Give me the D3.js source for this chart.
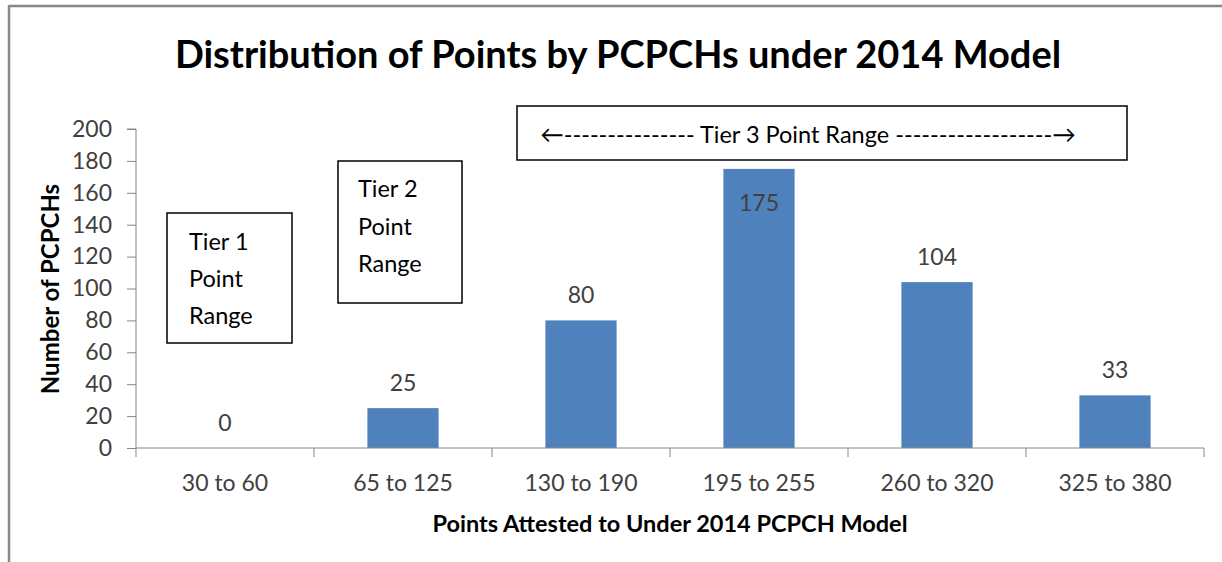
<!DOCTYPE html>
<html><head><meta charset="utf-8">
<script src="https://cdn.jsdelivr.net/npm/d3@7"></script>
<style>
html,body{margin:0;padding:0;background:#fff;}
svg{display:block;font-family:Lato, "Open Sans", sans-serif;}
</style></head>
<body>
<svg id="c" width="1222" height="562"></svg>
<script>
const categories = ["30 to 60","65 to 125","130 to 190","195 to 255","260 to 320","325 to 380"];
const values = [0,25,80,175,104,33];
const yTicks = [0,20,40,60,80,100,120,140,160,180,200];
const titleText = "Distribution of Points by PCPCHs under 2014 Model";
const xTitle = "Points Attested to Under 2014 PCPCH Model";
const yTitle = "Number of PCPCHs";
const tier1Lines = ["Tier 1","Point","Range"];
const tier2Lines = ["Tier 2","Point","Range"];
const tier3Text = "\u2190--------------- Tier 3 Point Range ------------------\u2192";

const svg = d3.select("#c");
const W = 1222, H = 562;
const m = {left:136, right:1204, top:129, bottom:448};

// outer frame (top + left edges visible)
svg.append("line").attr("x1",9).attr("x2",W).attr("y1",6).attr("y2",6).attr("stroke","#888").attr("stroke-width",2.5);
svg.append("line").attr("x1",9).attr("x2",9).attr("y1",5).attr("y2",H).attr("stroke","#888").attr("stroke-width",2.5);

const x = d3.scaleBand().domain(categories).range([m.left,m.right]).paddingInner(0.6).paddingOuter(0.3);
const y = d3.scaleLinear().domain([0,200]).range([m.bottom,m.top]);

// bars
svg.append("g").selectAll("rect").data(values).join("rect")
  .attr("x",(d,i)=>x(categories[i]))
  .attr("width",x.bandwidth())
  .attr("y",d=>y(d))
  .attr("height",d=>y(0)-y(d))
  .attr("fill","#4F81BD");

// y axis
const yAxis = svg.append("g").attr("transform",`translate(${m.left},0)`)
  .call(d3.axisLeft(y).tickValues(yTicks).tickSize(9).tickPadding(15).tickFormat(d3.format("d")));
yAxis.select(".domain").attr("stroke","#868686").attr("d",`M-9,${y(200)}H0V${y(0)}`);
yAxis.selectAll(".tick line").attr("stroke","#868686");
yAxis.selectAll(".tick text").attr("fill","#404040").style("font-size","23px").style("font-family","Lato");

// x axis
const xAxis = svg.append("g").attr("transform",`translate(0,${m.bottom})`)
  .call(d3.axisBottom(x).tickSize(0).tickPadding(27));
xAxis.select(".domain").attr("stroke","#868686").attr("d",`M${m.left},0H${m.right}`);
xAxis.selectAll(".tick text").attr("fill","#404040").style("font-size","23px").style("font-family","Lato");
// boundary ticks between categories
const bounds = d3.range(categories.length+1).map(i=>m.left + i*(m.right-m.left)/categories.length);
svg.append("g").selectAll("line").data(bounds).join("line")
  .attr("x1",d=>d).attr("x2",d=>d).attr("y1",m.bottom).attr("y2",m.bottom+9)
  .attr("stroke","#868686");

// data labels
svg.append("g").selectAll("text").data(values).join("text")
  .attr("x",(d,i)=>x(categories[i])+x.bandwidth()/2)
  .attr("y",(d,i)=> d===175 ? y(d)+42 : y(d)-17)
  .attr("text-anchor","middle")
  .attr("fill","#404040").style("font-size","23px")
  .text(d=>d);

// title
svg.append("text").attr("x",618).attr("y",68).attr("text-anchor","middle")
  .style("font-size","38px").style("font-weight","bold").attr("fill","#000").text(titleText);

// axis titles
svg.append("text").attr("x",670).attr("y",532).attr("text-anchor","middle")
  .style("font-size","23.5px").style("font-weight","bold").attr("fill","#000").text(xTitle);
svg.append("text").attr("transform","translate(59,289) rotate(-90)").attr("text-anchor","middle")
  .style("font-size","24px").style("font-weight","bold").attr("fill","#000").text(yTitle);

// annotation boxes
function box(x0,y0,w,h){
  svg.append("rect").attr("x",x0).attr("y",y0).attr("width",w).attr("height",h)
    .attr("fill","#fff").attr("stroke","#000").attr("stroke-width",1.5);
}
box(167,213,125,130);
svg.append("g").selectAll("text").data(tier1Lines).join("text")
  .attr("x",189).attr("y",(d,i)=>250+i*37).style("font-size","23.5px").attr("fill","#000").text(d=>d);
box(338,161,124,142);
svg.append("g").selectAll("text").data(tier2Lines).join("text")
  .attr("x",358).attr("y",(d,i)=>197+i*37.5).style("font-size","23.5px").attr("fill","#000").text(d=>d);
box(517,106,610,54);
svg.append("text").attr("x",808).attr("y",143).attr("text-anchor","middle")
  .style("font-size","23.5px").attr("fill","#000").text(tier3Text);
</script>
</body></html>
